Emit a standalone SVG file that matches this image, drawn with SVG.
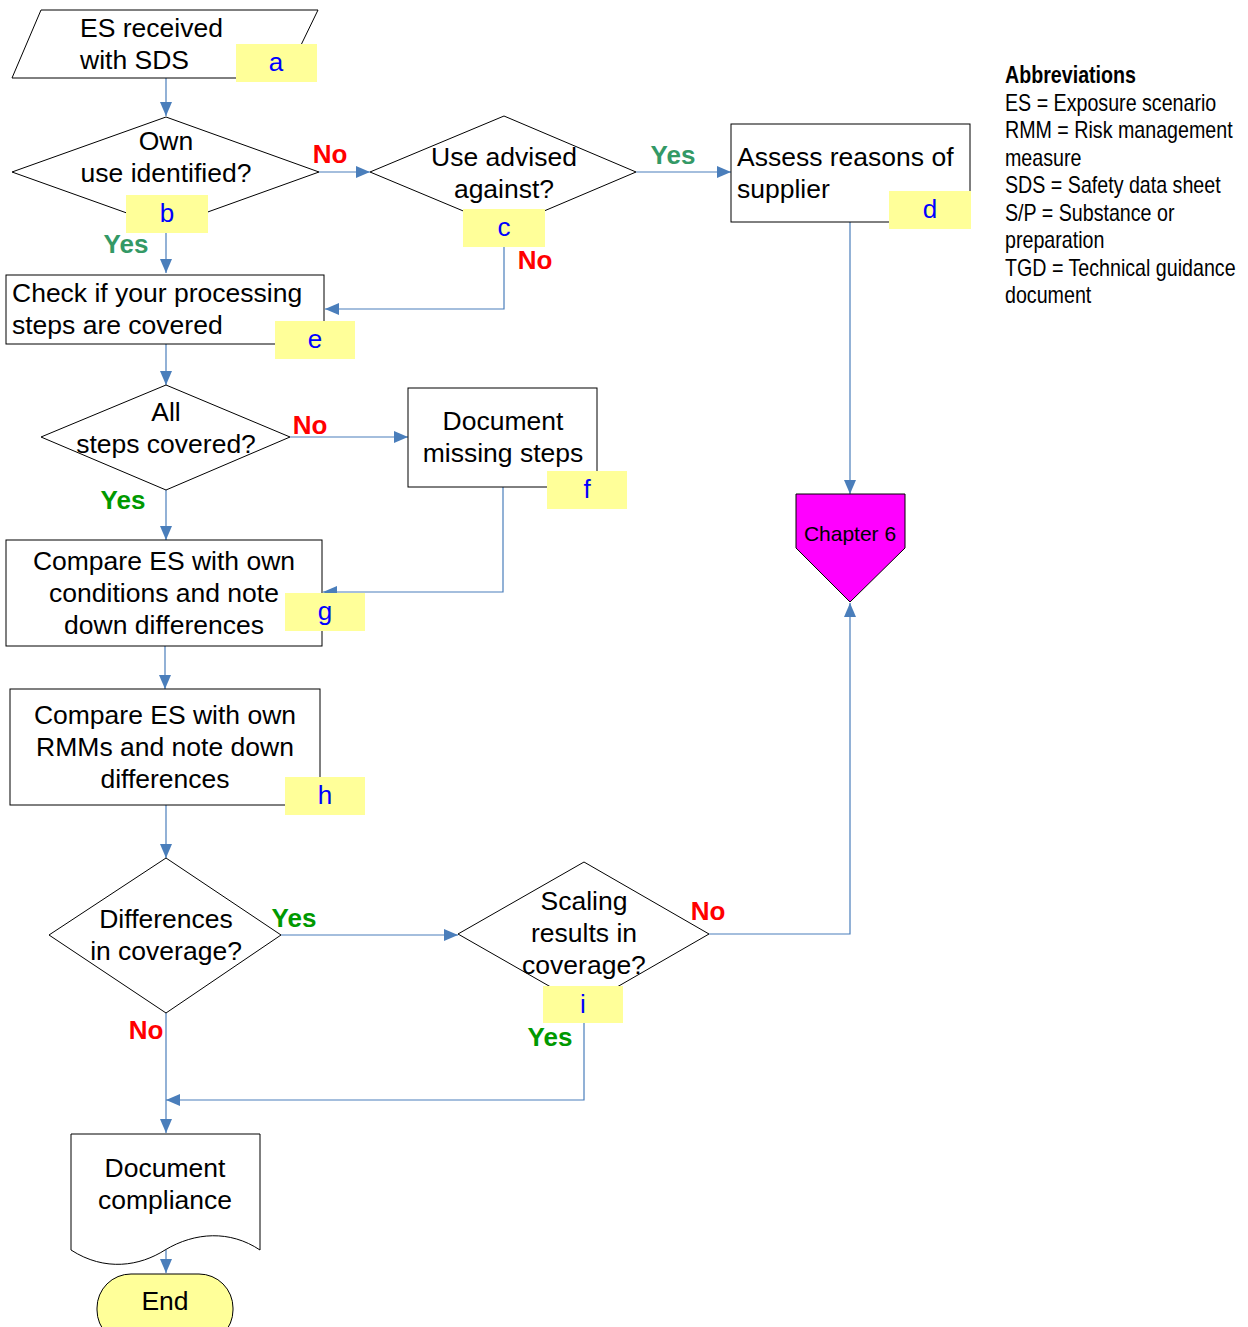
<svg xmlns="http://www.w3.org/2000/svg" width="1248" height="1327" viewBox="0 0 1248 1327">
<style>
.shape{fill:#fff;stroke:#000;stroke-width:1}
.t{font-family:"Liberation Sans",Arial,sans-serif;font-size:26.5px;fill:#000}
.c{text-anchor:middle}
.lb{fill:#ffff99;stroke:none}
.lt{font-family:"Liberation Sans",Arial,sans-serif;font-size:26px;fill:#0000ff;text-anchor:middle}
.yes1{font-family:"Liberation Sans",Arial,sans-serif;font-size:26px;font-weight:bold;fill:#339966;text-anchor:middle}
.yes2{font-family:"Liberation Sans",Arial,sans-serif;font-size:26px;font-weight:bold;fill:#009900;text-anchor:middle}
.no{font-family:"Liberation Sans",Arial,sans-serif;font-size:26px;font-weight:bold;fill:#ff0000;text-anchor:middle}
.conn{fill:none;stroke:#4a7ebb;stroke-width:1.2;marker-end:url(#arr)}
.ab{font-family:"Liberation Sans",Arial,sans-serif;font-size:23px;fill:#000}
</style>
<defs>
<marker id="arr" markerUnits="userSpaceOnUse" viewBox="0 0 14 12" markerWidth="14" markerHeight="12" refX="14" refY="6" orient="auto">
<path d="M0,0 L14,6 L0,12 z" fill="#4a7ebb"/>
</marker>
</defs>
<rect width="1248" height="1327" fill="#fff"/>

<g id="connectors">
<path class="conn" d="M166,78 V116"/>
<path class="conn" d="M319,172 H370"/>
<path class="conn" d="M166,233 V273"/>
<path class="conn" d="M636,172 H731"/>
<path class="conn" d="M504,247 V309 H325"/>
<path class="conn" d="M850,222 V494"/>
<path class="conn" d="M166,344 V385"/>
<path class="conn" d="M290,437 H408"/>
<path class="conn" d="M503,487 V592 H323"/>
<path class="conn" d="M166,490 V540"/>
<path class="conn" d="M165,646 V689"/>
<path class="conn" d="M166,805 V858"/>
<path class="conn" d="M281,935 H458"/>
<path class="conn" d="M709,934 H850 V603"/>
<path class="conn" d="M584,1023 V1100 H166"/>
<path class="conn" d="M166,1013 V1133"/>
<path class="conn" d="M166,1250 V1273"/>
</g>

<g id="edge-labels">
<text class="no" x="330" y="163">No</text>
<text class="yes1" x="126" y="253">Yes</text>
<text class="yes1" x="673" y="164">Yes</text>
<text class="no" x="535" y="269">No</text>
<text class="no" x="310" y="434">No</text>
<text class="yes2" x="123" y="509">Yes</text>
<text class="yes2" x="294" y="927">Yes</text>
<text class="no" x="708" y="920">No</text>
<text class="no" x="146" y="1039">No</text>
<text class="yes2" x="550" y="1046">Yes</text>
</g>

<g id="node-a">
<polygon class="shape" points="41,10 318,10 285,78 12,78"/>
<text class="t" x="80" y="36.5">ES received</text>
<text class="t" x="80" y="68.5">with SDS</text>
<rect class="lb" x="236" y="44" width="81" height="38"/>
<text class="lt" x="276" y="71">a</text>
</g>

<g id="node-b">
<polygon class="shape" points="166,117 319,172 166,227 12,172"/>
<text class="t c" x="166" y="149.5">Own</text>
<text class="t c" x="166" y="181.5">use identified?</text>
<rect class="lb" x="126" y="195" width="82" height="38"/>
<text class="lt" x="167" y="222">b</text>
</g>

<g id="node-c">
<polygon class="shape" points="504,116 636,172 504,228 370,172"/>
<text class="t c" x="504" y="165.5">Use advised</text>
<text class="t c" x="504" y="197.5">against?</text>
<rect class="lb" x="463" y="209" width="82" height="38"/>
<text class="lt" x="504" y="236">c</text>
</g>

<g id="node-d">
<rect class="shape" x="731" y="124" width="239" height="98"/>
<text class="t" x="737" y="165.5">Assess reasons of</text>
<text class="t" x="737" y="197.5">supplier</text>
<rect class="lb" x="889" y="191" width="82" height="38"/>
<text class="lt" x="930" y="218">d</text>
</g>

<g id="node-chapter6">
<polygon points="796,494 905,494 905,548 850,602 796,548" fill="#ff00ff" stroke="#000" stroke-width="1"/>
<text x="850" y="541" font-family="Liberation Sans, Arial, sans-serif" font-size="21" text-anchor="middle" fill="#000">Chapter 6</text>
</g>

<g id="node-e">
<rect class="shape" x="6" y="275" width="318" height="69"/>
<text class="t" x="12" y="301.5">Check if your processing</text>
<text class="t" x="12" y="333.5">steps are covered</text>
<rect class="lb" x="275" y="321" width="80" height="38"/>
<text class="lt" x="315" y="348">e</text>
</g>

<g id="node-allsteps">
<polygon class="shape" points="166,385 290,437 166,490 41,437"/>
<text class="t c" x="166" y="420.5">All</text>
<text class="t c" x="166" y="452.5">steps covered?</text>
</g>

<g id="node-f">
<rect class="shape" x="408" y="388" width="189" height="99"/>
<text class="t c" x="503" y="429.5">Document</text>
<text class="t c" x="503" y="461.5">missing steps</text>
<rect class="lb" x="547" y="471" width="80" height="38"/>
<text class="lt" x="587" y="498">f</text>
</g>

<g id="node-g">
<rect class="shape" x="6" y="540" width="316" height="106"/>
<text class="t c" x="164" y="569.5">Compare ES with own</text>
<text class="t c" x="164" y="601.5">conditions and note</text>
<text class="t c" x="164" y="633.5">down differences</text>
<rect class="lb" x="285" y="593" width="80" height="38"/>
<text class="lt" x="325" y="620">g</text>
</g>

<g id="node-h">
<rect class="shape" x="10" y="689" width="310" height="116"/>
<text class="t c" x="165" y="723.5">Compare ES with own</text>
<text class="t c" x="165" y="755.5">RMMs and note down</text>
<text class="t c" x="165" y="787.5">differences</text>
<rect class="lb" x="285" y="777" width="80" height="38"/>
<text class="lt" x="325" y="804">h</text>
</g>

<g id="node-differences">
<polygon class="shape" points="166,858 281,935 166,1013 49,935"/>
<text class="t c" x="166" y="927.5">Differences</text>
<text class="t c" x="166" y="959.5">in coverage?</text>
</g>

<g id="node-i">
<polygon class="shape" points="584,862 709,934 584,1006 458,934"/>
<text class="t c" x="584" y="909.5">Scaling</text>
<text class="t c" x="584" y="941.5">results in</text>
<text class="t c" x="584" y="973.5">coverage?</text>
<rect class="lb" x="543" y="986" width="80" height="37"/>
<text class="lt" x="583" y="1013">i</text>
</g>

<g id="node-compliance">
<path class="shape" d="M71,1134 H260 V1250 C230,1230 195,1232 165,1250 C140,1266 105,1272 71,1250 Z"/>
<text class="t c" x="165" y="1176.5">Document</text>
<text class="t c" x="165" y="1208.5">compliance</text>
</g>

<g id="node-end">
<rect x="97" y="1274" width="136" height="70" rx="34" ry="34" fill="#ffff99" stroke="#000" stroke-width="1"/>
<text class="t c" x="165" y="1309.5">End</text>
</g>

<g id="abbreviations" transform="translate(1005,0) scale(0.855,1)">
<text class="ab" x="0" y="83.5" font-weight="bold">Abbreviations</text>
<text class="ab" x="0" y="111">ES = Exposure scenario</text>
<text class="ab" x="0" y="138.5">RMM = Risk management</text>
<text class="ab" x="0" y="166">measure</text>
<text class="ab" x="0" y="193.5">SDS = Safety data sheet</text>
<text class="ab" x="0" y="221">S/P = Substance or</text>
<text class="ab" x="0" y="248.5">preparation</text>
<text class="ab" x="0" y="276">TGD = Technical guidance</text>
<text class="ab" x="0" y="303.5">document</text>
</g>
</svg>
